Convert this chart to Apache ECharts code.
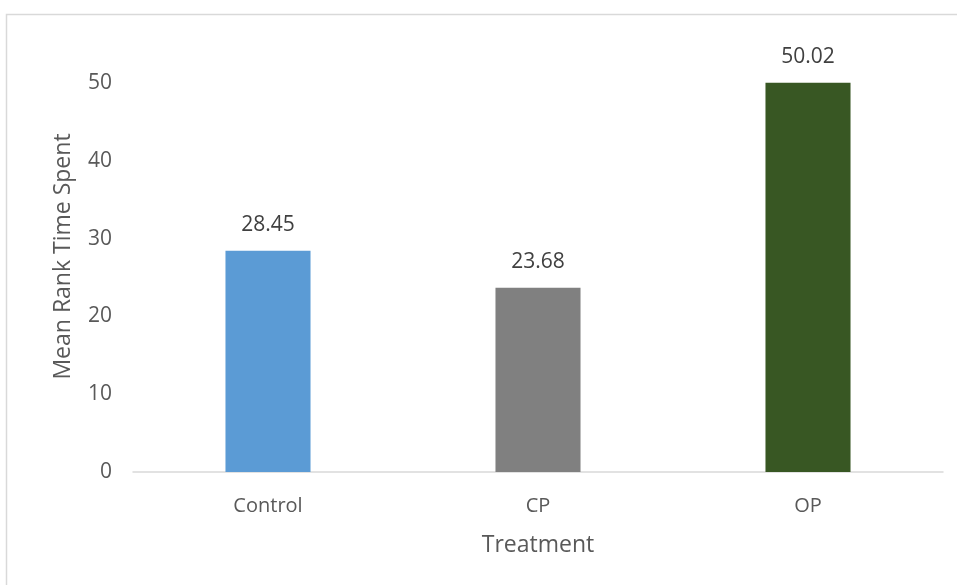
<!DOCTYPE html>
<html>
<head>
<meta charset="utf-8">
<script src="https://cdn.jsdelivr.net/npm/echarts@6/dist/echarts.min.js"></script>
<style>
  html, body { margin: 0; padding: 0; background: #fff; }
  #chart { width: 957px; height: 585px; }
</style>
</head>
<body>
<div id="chart"></div>
<script>
const categories = ['Control', 'CP', 'OP'];
const meanRank = [28.45, 23.68, 50.02];
const barColors = ['#5B9BD5', '#808080', '#385723'];
const yTicks = [0, 10, 20, 30, 40, 50];

const font = '"Open Sans", "Noto Sans", sans-serif';
const chart = echarts.init(document.getElementById('chart'));

chart.setOption({
  animation: false,
  backgroundColor: '#ffffff',
  graphic: [{
    type: 'rect',
    shape: { x: 6.5, y: 14.5, width: 1200, height: 1200 },
    style: { fill: 'none', stroke: '#d9d9d9', lineWidth: 1.5 },
    silent: true
  }],
  grid: { left: 133, right: 14, top: 83, bottom: 113, containLabel: false },
  xAxis: {
    type: 'category',
    data: categories,
    name: 'Treatment',
    nameLocation: 'middle',
    nameGap: 62,
    nameTextStyle: { fontFamily: font, fontSize: 23, color: '#595959' },
    axisLine: { lineStyle: { color: '#d9d9d9', width: 1.5 } },
    axisTick: { show: false },
    axisLabel: { fontFamily: font, fontSize: 20, color: '#595959', margin: 24 }
  },
  yAxis: {
    type: 'value',
    min: yTicks[0],
    max: yTicks[yTicks.length - 1],
    interval: yTicks[1] - yTicks[0],
    name: 'Mean Rank Time Spent',
    nameLocation: 'middle',
    nameGap: 58,
    nameTextStyle: { fontFamily: font, fontSize: 23, color: '#595959', padding: [0, 0, 0, 42] },
    axisLine: { show: false },
    axisTick: { show: false },
    splitLine: { show: false },
    axisLabel: { fontFamily: font, fontSize: 21, color: '#595959', margin: 21 }
  },
  series: [{
    type: 'bar',
    clip: false,
    barWidth: '31.5%',
    data: meanRank.map((v, i) => ({ value: v, itemStyle: { color: barColors[i] } })),
    label: {
      show: true,
      position: 'top',
      distance: 15,
      fontFamily: font,
      fontSize: 21,
      color: '#404040',
      formatter: p => p.value.toFixed(2)
    }
  }]
});
</script>
</body>
</html>
